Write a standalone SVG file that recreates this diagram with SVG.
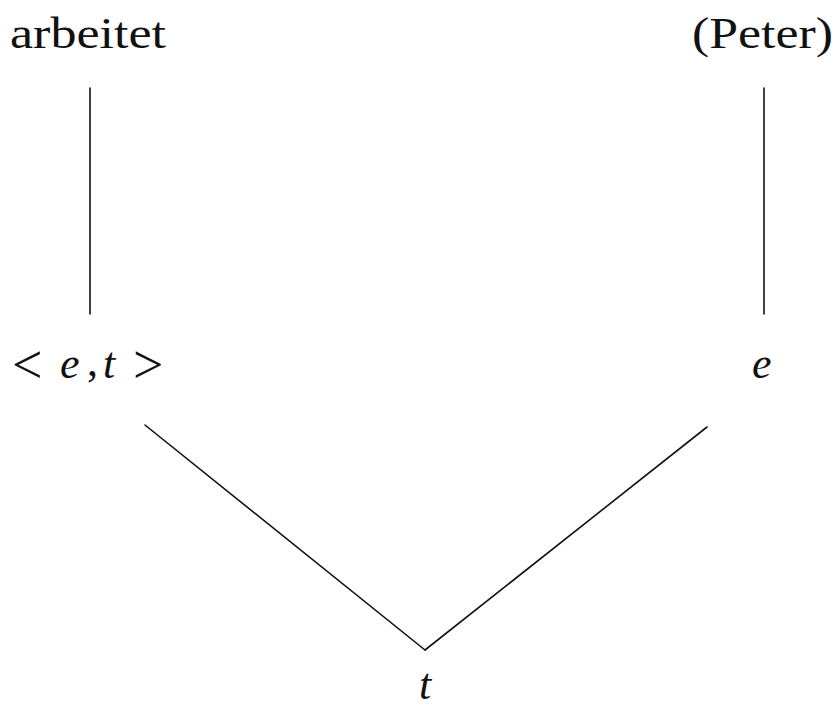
<svg xmlns="http://www.w3.org/2000/svg" width="835" height="720" viewBox="0 0 835 720">
<style>
text{font-family:"Liberation Serif","DejaVu Serif",serif;fill:#111;font-size:44px}
.i{font-style:italic}
.r{font-size:54px}
.c line{stroke:#111;stroke-width:1.6;stroke-linecap:round}
</style>
<rect width="835" height="720" fill="#fff"/>
<g id="arbeitet"><text x="10" y="48" textLength="156" lengthAdjust="spacingAndGlyphs">arbeitet</text></g>
<g id="peter"><text x="692" y="48" textLength="141" lengthAdjust="spacingAndGlyphs">(Peter)</text></g>
<g id="et"><text class="r" x="12" y="383">&lt;</text><text class="i" x="60" y="378">e</text><text x="87" y="376">,</text><text class="i" x="103" y="378">t</text><text class="r" x="133" y="383">&gt;</text></g>
<g id="e"><text class="i" x="752" y="378">e</text></g>
<g id="t"><text class="i" x="419" y="699">t</text></g>
<g class="c" id="connectors">
<line x1="90" y1="88" x2="90" y2="314"/>
<line x1="764" y1="88" x2="764" y2="314"/>
<line x1="145" y1="425" x2="425" y2="650"/>
<line x1="707" y1="427" x2="425" y2="650"/>
</g>
</svg>
